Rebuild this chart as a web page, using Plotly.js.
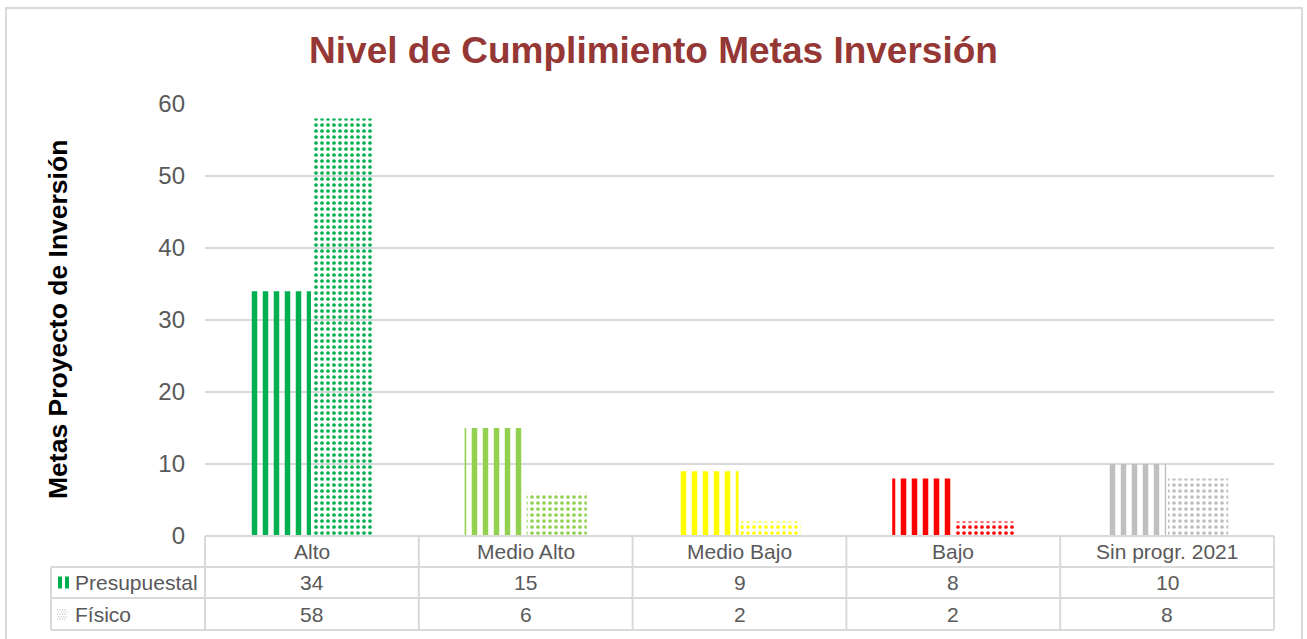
<!DOCTYPE html>
<html>
<head>
<meta charset="utf-8">
<script src="https://cdn.plot.ly/plotly-3.0.1.min.js"></script>
<style>
html,body{margin:0;padding:0;background:#fff;}
#chart{width:1307px;height:639px;}
</style>
</head>
<body>
<div id="chart"></div>
<script>
const categories = ['Alto', 'Medio Alto', 'Medio Bajo', 'Bajo', 'Sin progr. 2021'];
const presupuestal = [34, 15, 9, 8, 10];
const fisico = [58, 6, 2, 2, 8];
const seriesNames = ['Presupuestal', 'Físico'];
const catColors = ['#00b050', '#92d050', '#ffff00', '#ff0000', '#bfbfbf'];
const yTicks = [0, 10, 20, 30, 40, 50, 60];
const chartTitle = 'Nivel de Cumplimiento Metas Inversión';
const yTitle = 'Metas Proyecto de Inversión';

const W = 1307, H = 639;
const M = {l: 205, r: 33, t: 104, b: 103};
const PW = W - M.l - M.r, PH = H - M.t - M.b;
const px2x = px => (px - M.l) / PW;
const px2y = py => (H - M.b - py) / PH;

const lineColor = '#d9d9d9';
const textColor = '#595959';
const FONT = 'Liberation Sans, Arial, sans-serif';

const traces = [
  {
    type: 'bar', name: seriesNames[0], x: categories, y: presupuestal,
    marker: {color: catColors, line: {width: 0},
      pattern: {shape: '|', fgcolor: catColors, bgcolor: '#ffffff', size: 11, solidity: 0.5, fillmode: 'replace'}},
    hoverinfo: 'x+y+name'
  },
  {
    type: 'bar', name: seriesNames[1], x: categories, y: fisico,
    marker: {color: catColors, line: {width: 0},
      pattern: {shape: '.', fgcolor: catColors, bgcolor: '#ffffff', size: 6, solidity: 0.3, fillmode: 'replace'}},
    hoverinfo: 'x+y+name'
  }
];

// Table rows (pixel rows)
const rowTop = H - M.b;          // 536
const rowH = [31, 31, 32];
const rowLines = [rowTop, rowTop + rowH[0], rowTop + rowH[0] + rowH[1], rowTop + rowH[0] + rowH[1] + rowH[2]];
const rowCenters = [0,1,2].map(i => (rowLines[i] + rowLines[i+1]) / 2);
const leftColX = 51;

const shapes = [];
const line = (x0, y0, x1, y1, xref) => ({type: 'line', xref: xref || 'paper', yref: 'paper', x0, y0, x1, y1,
  line: {color: lineColor, width: 2}, layer: 'above'});

// outer border
shapes.push({type: 'rect', xref: 'paper', yref: 'paper', x0: px2x(6), x1: px2x(1302), y0: px2y(8), y1: px2y(660),
  line: {color: lineColor, width: 2}, fillcolor: 'rgba(0,0,0,0)', layer: 'below'});
// horizontal table lines
shapes.push(line(0, px2y(rowLines[0]), 1, px2y(rowLines[0])));
for (let i = 1; i < 4; i++) shapes.push(line(px2x(leftColX), px2y(rowLines[i]), 1, px2y(rowLines[i])));
// vertical lines at category boundaries
for (let i = 0; i <= categories.length; i++) {
  shapes.push(line(i / categories.length, px2y(rowLines[0]), i / categories.length, px2y(rowLines[3])));
}
// left column border
shapes.push(line(px2x(leftColX), px2y(rowLines[1]), px2x(leftColX), px2y(rowLines[3])));

// legend keys in the table
const keyY1 = rowCenters[1];
[58, 65].forEach(x => shapes.push({type: 'rect', xref: 'paper', yref: 'paper',
  x0: px2x(x), x1: px2x(x + 4), y0: px2y(keyY1 - 6), y1: px2y(keyY1 + 6),
  fillcolor: catColors[0], line: {width: 0}, layer: 'above'}));
// dotted key for Físico
const keyY2 = rowCenters[2];
for (let r = 0; r < 5; r++) {
  for (let c = 0; c < 4; c++) {
    const x = 57 + c * 2.5 + (r % 2) * 1.2;
    const y = keyY2 - 5 + r * 2.4;
    shapes.push({type: 'rect', xref: 'paper', yref: 'paper',
      x0: px2x(x), x1: px2x(x + 1.2), y0: px2y(y), y1: px2y(y + 1.2),
      fillcolor: '#c8c8c8', line: {width: 0}, layer: 'above'});
  }
}

const annotations = [];
const tfont = {family: FONT, size: 21, color: textColor};
categories.forEach((c, i) => {
  annotations.push({xref: 'x', yref: 'paper', x: c, y: px2y(rowCenters[0]), text: c, showarrow: false,
    xanchor: 'center', yanchor: 'middle', font: tfont});
  annotations.push({xref: 'x', yref: 'paper', x: c, y: px2y(rowCenters[1]), text: String(presupuestal[i]), showarrow: false,
    xanchor: 'center', yanchor: 'middle', font: tfont});
  annotations.push({xref: 'x', yref: 'paper', x: c, y: px2y(rowCenters[2]), text: String(fisico[i]), showarrow: false,
    xanchor: 'center', yanchor: 'middle', font: tfont});
});
annotations.push({xref: 'paper', yref: 'paper', x: px2x(73), y: px2y(rowCenters[1]), text: seriesNames[0], showarrow: false,
  xanchor: 'left', yanchor: 'middle', font: tfont});
annotations.push({xref: 'paper', yref: 'paper', x: px2x(73), y: px2y(rowCenters[2]), text: seriesNames[1], showarrow: false,
  xanchor: 'left', yanchor: 'middle', font: tfont});
// y axis title
annotations.push({xref: 'paper', yref: 'paper', x: px2x(58), y: px2y(320), text: yTitle, textangle: -90, showarrow: false,
  xanchor: 'center', yanchor: 'middle', font: {family: FONT, size: 26.5, color: '#000000', weight: 'bold'}});

const layout = {
  width: W, height: H,
  margin: M,
  paper_bgcolor: '#ffffff', plot_bgcolor: '#ffffff',
  showlegend: false,
  barmode: 'group', bargap: 0.42, bargroupgap: 0.03,
  title: {text: chartTitle, x: 0.5, xanchor: 'center', xref: 'container', yref: 'container',
    y: 1 - 50 / H, yanchor: 'middle',
    font: {family: FONT, size: 37, color: '#953735', weight: 'bold'}},
  xaxis: {type: 'category', showticklabels: false, ticks: '', showgrid: false, zeroline: false, showline: false,
    range: [-0.5, categories.length - 0.5], fixedrange: true},
  yaxis: {range: [0, 60], tickvals: yTicks, ticks: '', showgrid: true, gridcolor: lineColor, gridwidth: 2,
    zeroline: false, showline: false, ticklabelstandoff: 19,
    tickfont: {family: FONT, size: 24, color: textColor}, fixedrange: true},
  shapes, annotations
};

Plotly.newPlot('chart', traces, layout, {displayModeBar: false, staticPlot: true});
</script>
</body>
</html>
